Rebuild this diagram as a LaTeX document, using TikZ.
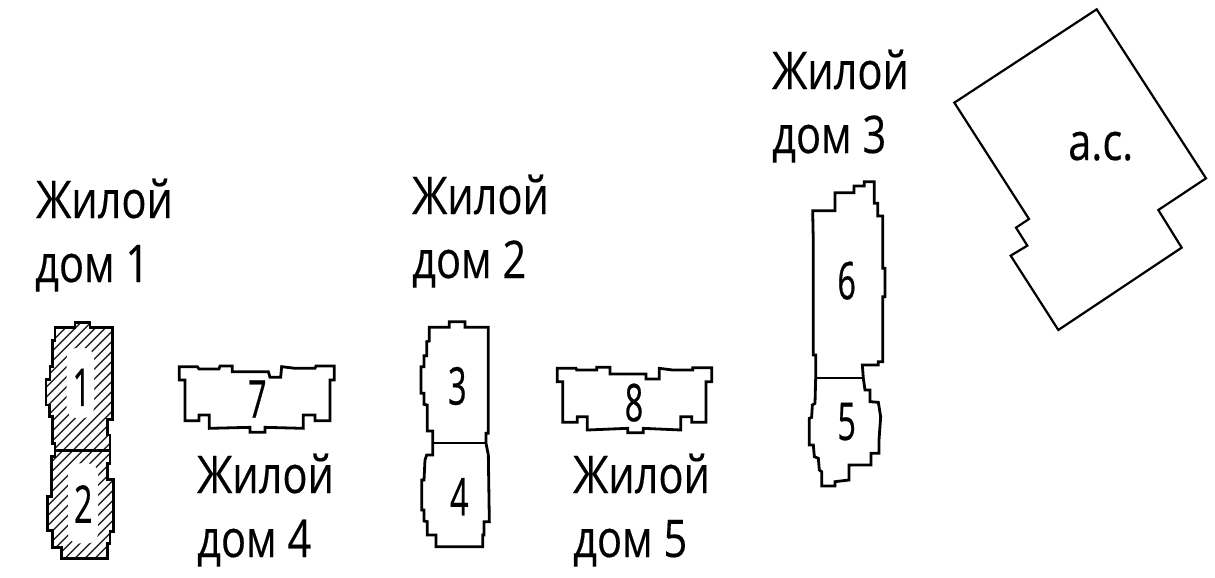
\documentclass[tikz,border=0pt]{standalone}
\usepackage{fontspec}
\setmainfont[FakeStretch=0.8,FakeBold=0.3]{Open Sans}
\newfontfamily\digfont[FakeStretch=0.62,FakeBold=0.5]{Open Sans}
\tikzset{
 lbl/.style={anchor=base west,inner sep=0pt,font=\fontsize{52}{52}\selectfont},
 dig/.style={inner sep=0pt,font=\digfont\fontsize{52}{52}\selectfont},
 bld/.style={draw=black,line width=2.8pt,line join=miter},
 hatch/.style={line width=1.5pt,black!85},
 pz/.style={x=.33333pt,y=-.33333pt}
}
\begin{document}
\begin{tikzpicture}[x=1pt,y=-1pt]
\useasboundingbox (0,0) rectangle (1215,578);
\fill[white] (0,0) rectangle (1215,578);
% houses 1 and 2
\begin{scope}[shift={(20,300)},pz]
 \def\bA{(165,68)--(210,68)--(210,82)--(277,82)--(277,358)--(263,358)--(263,405)--(270,405)--(270,490)--(262,490)--(262,538)--(280,538)--(280,695)--(270,695)--(270,730)--(263,730)--(263,775)--(125,775)--(125,742)--(98,742)--(98,692)--(82,692)--(82,590)--(95,590)--(95,470)--(105,470)--(105,430)--(97,430)--(97,350)--(88,350)--(88,315)--(78,315)--(78,238)--(90,238)--(90,200)--(97,200)--(97,122)--(105,122)--(105,82)--(165,82)--cycle}
 \begin{scope}
  \clip \bA;
  \foreach \k in {0,30,...,1200}{\draw[hatch] (40,\k) -- (340,\k-300);}
  \fill[white,rounded corners=10pt] (140,144) rectangle (222,354);
  \fill[white,rounded corners=10pt] (144,490) rectangle (234,730);
 \end{scope}
 \draw[bld] \bA;
 \draw[bld] (105,452) -- (270,452);
 \node[dig] (n1) at (185,262) {1};
 \node[dig] (n2) at (190,612) {2};
 \draw[bld] (478,200)--(532,200)--(537,207)--(597,207)--(600,198)--(637,198)--(637,215)--(745,215)--(750,232)--(782,232)--(785,200)--(825,205)--(885,205)--(888,198)--(943,198)--(943,240)--(930,240)--(930,362)--(885,362)--(885,345)--(850,345)--(850,385)--(735,382)--(735,397)--(690,397)--(690,382)--(568,385)--(568,345)--(537,345)--(537,362)--(495,362)--(495,240)--(478,240)--cycle;
 \node[dig] (n7) at (712,297) {7};
\end{scope}
% houses 3 and 4
\begin{scope}[shift={(410,315)},pz]
 \draw[bld] (118,20)--(165,20)--(165,37)--(235,37)--(235,355)--(228,355)--(228,385)--(235,420)--(238,620)--(222,620)--(222,660)--(218,660)--(218,695)--(78,695)--(78,660)--(52,660)--(52,620)--(42,618)--(42,585)--(35,585)--(35,495)--(42,495)--(45,435)--(50,420)--(68,420)--(68,348)--(52,348)--(52,270)--(42,268)--(42,235)--(33,235)--(33,155)--(42,155)--(42,122)--(50,122)--(50,80)--(58,78)--(58,37)--(118,37)--cycle;
 \draw[bld,line width=2.2pt] (68,385) -- (228,385);
 \node[dig] (n3) at (142,213) {3};
 \node[dig] (n4) at (148,545) {4};
\end{scope}
% house 8
\begin{scope}[shift={(400,300)},pz]
 \draw[bld] (472,205)--(528,205)--(530,210)--(590,210)--(590,202)--(630,202)--(630,222)--(738,222)--(738,237)--(778,237)--(778,205)--(818,210)--(878,210)--(878,203)--(935,203)--(935,245)--(918,245)--(918,367)--(875,367)--(875,350)--(842,350)--(842,390)--(730,385)--(730,398)--(683,398)--(683,385)--(562,390)--(562,350)--(532,350)--(532,367)--(488,367)--(488,245)--(472,245)--cycle;
 \node[dig] (n8) at (702,308) {8};
\end{scope}
% houses 5 and 6
\begin{scope}[shift={(780,170)},pz]
 \draw[bld] (98,122)--(165,122)--(165,68)--(222,68)--(222,48)--(253,48)--(253,35)--(283,35)--(283,100)--(293,100)--(293,138)--(308,138)--(308,295)--(315,295)--(315,380)--(308,380)--(308,575)--(295,575)--(295,585)--(247,585)--(250,625)--(255,660)--(270,660)--(270,695)--(295,697)--(302,740)--(297,810)--(297,850)--(273,850)--(273,885)--(207,885)--(207,930)--(165,935)--(165,948)--(125,948)--(125,905)--(118,900)--(115,865)--(103,860)--(100,825)--(88,825)--(88,745)--(95,742)--(97,705)--(105,700)--(107,625)--(107,555)--(100,555)--(100,220)--cycle;
 \draw[bld,line width=2.2pt] (107,625) -- (250,625);
 \node[dig] (n6) at (200,332) {6};
 \node[dig] (n5) at (200,755) {5};
\end{scope}
% a.c. building
\begin{scope}[shift={(940,0)},pz]
 \draw[bld,line width=2.2pt] (470,28)--(798,535)--(655,630)--(725,743)--(355,990)--(212,767)--(262,737)--(228,683)--(267,657)--(43,308)--cycle;
\end{scope}
\node[lbl] (ac) at (1068,160) {а.с.};
\node[lbl] (h1a) at (36,218) {Жилой};
\node[lbl] (h1b) at (35,282) {дом 1};
\node[lbl] (h2a) at (412,214) {Жилой};
\node[lbl] (h2b) at (412,278) {дом 2};
\node[lbl] (h3a) at (772,89) {Жилой};
\node[lbl] (h3b) at (772,153) {дом 3};
\node[lbl] (h4a) at (197,493) {Жилой};
\node[lbl] (h4b) at (197,557) {дом 4};
\node[lbl] (h5a) at (573,493) {Жилой};
\node[lbl] (h5b) at (573,557) {дом 5};
\end{tikzpicture}
\end{document}
